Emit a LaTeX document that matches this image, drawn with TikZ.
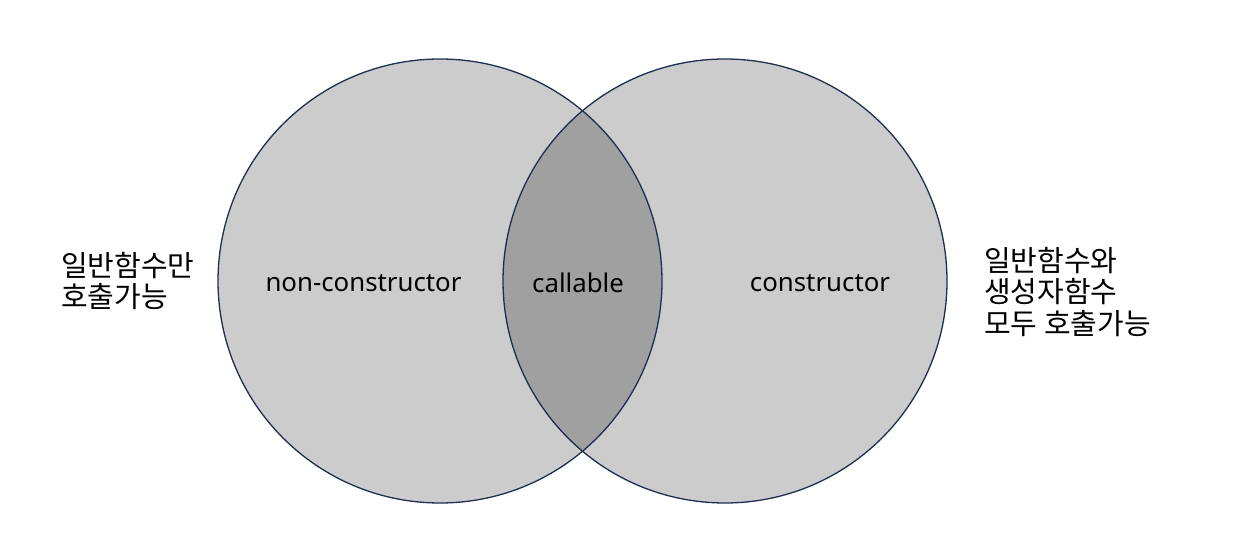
\documentclass[tikz,border=0pt]{standalone}
\usepackage{fontspec}
\setmainfont{Noto Sans}
\newfontfamily\kr{Noto Sans CJK KR}
\definecolor{fillgray}{HTML}{CCCCCC}
\definecolor{midgray}{HTML}{A0A0A0}
\definecolor{edge}{HTML}{1F2D4E}
\begin{document}
\begin{tikzpicture}[x=1pt,y=-1pt,
  circ/.style={draw=edge,line width=1.3pt},
  lbl/.style={font=\fontsize{25.8}{30}\selectfont,inner sep=0pt},
  krl/.style={font=\kr\fontsize{29}{31.5}\selectfont,align=left,inner sep=0pt,anchor=west}]
\useasboundingbox (0,0) rectangle (1236,534);
\fill[fillgray] (440,281) circle (222);
\fill[fillgray] (725,281) circle (222);
\begin{scope}
  \clip (440,281) circle (222);
  \fill[midgray] (725,281) circle (222);
\end{scope}
\draw[circ] (440,281) circle (222);
\draw[circ] (725,281) circle (222);
\node[lbl] (nc) at (363.5,283) {non-constructor};
\node[lbl] (cb) at (578,283) {callable};
\node[lbl] (co) at (820,283) {constructor};
\node[krl] (lt) at (61,281) {일반함수만\\호출가능};
\node[krl] (rt) at (984,292) {일반함수와\\생성자함수\\모두 호출가능};
\end{tikzpicture}
\end{document}
